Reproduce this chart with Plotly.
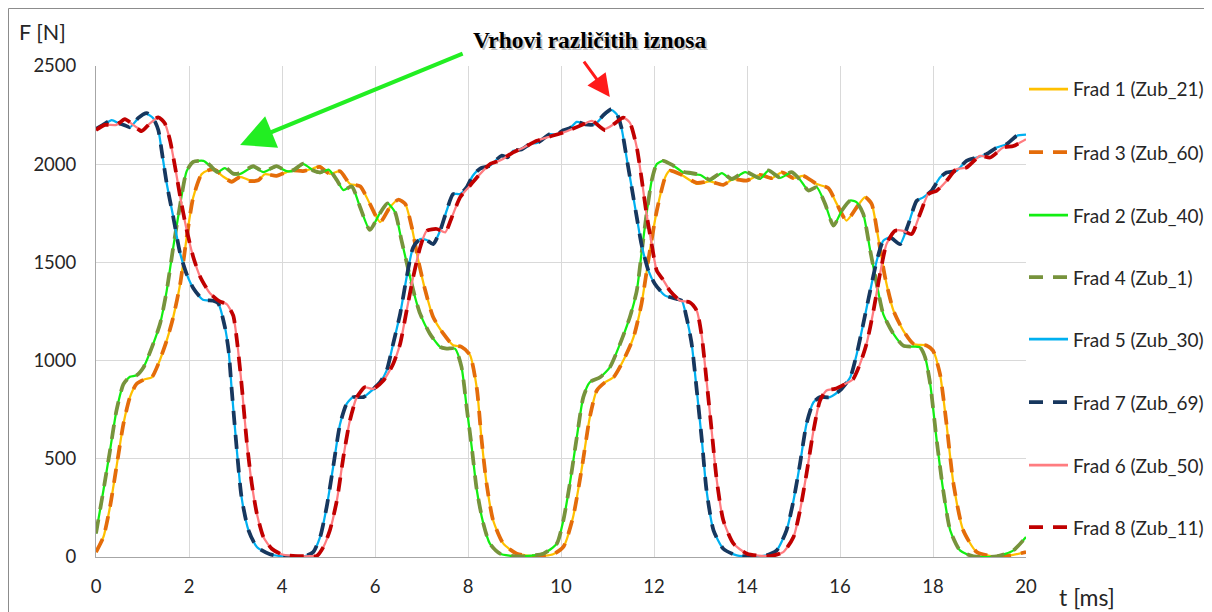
import plotly.graph_objects as go

# ---------------- data ----------------
t1 = [0, 0.16, 0.3, 0.44, 0.59, 0.73, 0.87, 1.05, 1.2, 1.34, 1.52, 1.66, 1.81, 1.95, 2.09, 2.27, 2.4, 2.56, 2.74, 2.92,
      3.1, 3.31, 3.49, 3.63, 3.88, 4.1, 4.24, 4.45, 4.67, 4.81, 5.03, 5.25, 5.46, 5.68, 5.89, 6.11, 6.32, 6.5, 6.65, 6.79,
      6.93, 7.08, 7.25, 7.47, 7.68, 7.86, 8.04, 8.19, 8.29, 8.4, 8.54, 8.76, 9.05, 9.48, 9.83, 10.05, 10.26, 10.44, 10.62, 10.77,
      10.95, 11.13, 11.34, 11.56, 11.73, 11.91, 12.06, 12.24, 12.34, 12.56, 12.92, 13.2, 13.49, 13.7, 13.99, 14.28, 14.53, 14.75, 15.0, 15.21,
      15.5, 15.75, 15.93, 16.14, 16.36, 16.54, 16.68, 16.82, 16.97, 17.15, 17.36, 17.58, 17.86, 18.0, 18.15, 18.29, 18.44, 18.65, 18.94, 19.3,
      19.66, 20.0]
frad1 = [25, 102, 254, 458, 678, 814, 881, 905, 915, 983, 1102, 1220, 1390, 1627, 1830, 1949, 1968, 1970, 1936, 1915,
         1936, 1918, 1918, 1949, 1941, 1960, 1969, 1965, 1978, 1990, 1951, 1964, 1900, 1888, 1798, 1705, 1781, 1819, 1798, 1680,
         1511, 1358, 1222, 1137, 1078, 1070, 1030, 858, 603, 373, 187, 68, 17, 3, 14, 51, 204, 441, 712, 848,
         890, 915, 1000, 1119, 1288, 1559, 1763, 1933, 1967, 1950, 1900, 1912, 1895, 1924, 1916, 1946, 1929, 1958, 1929, 1941,
         1899, 1878, 1798, 1713, 1781, 1832, 1798, 1628, 1424, 1254, 1153, 1085, 1077, 1051, 932, 678, 373, 136, 25, 3,
         8, 25]
frad3 = [25, 102, 254, 458, 678, 814, 881, 905, 915, 983, 1102, 1220, 1390, 1627, 1830, 1949, 1968, 1972, 1936, 1910,
         1936, 1914, 1918, 1949, 1941, 1960, 1969, 1965, 1978, 1986, 1951, 1964, 1900, 1888, 1798, 1705, 1781, 1819, 1798, 1680,
         1511, 1358, 1222, 1137, 1078, 1070, 1030, 858, 603, 373, 187, 68, 17, 3, 14, 51, 204, 441, 712, 848,
         890, 915, 1000, 1119, 1288, 1559, 1763, 1933, 1967, 1950, 1905, 1912, 1895, 1924, 1916, 1946, 1929, 1958, 1929, 1941,
         1899, 1878, 1798, 1713, 1781, 1832, 1798, 1628, 1424, 1254, 1153, 1085, 1077, 1051, 932, 678, 373, 136, 25, 3,
         8, 25]

t2 = [0, 0.16, 0.3, 0.44, 0.59, 0.73, 0.87, 1.02, 1.23, 1.38, 1.52, 1.66, 1.81, 1.95, 2.09, 2.31, 2.45, 2.6, 2.77, 2.95,
      3.1, 3.38, 3.6, 3.88, 4.1, 4.24, 4.46, 4.67, 4.82, 5.0, 5.18, 5.32, 5.5, 5.68, 5.89, 6.1, 6.27, 6.43, 6.57, 6.72,
      6.86, 6.97, 7.18, 7.4, 7.54, 7.72, 7.86, 7.97, 8.08, 8.19, 8.33, 8.47, 8.69, 9.1, 9.62, 9.91, 10.05, 10.19, 10.34, 10.48,
      10.62, 10.84, 11.05, 11.27, 11.48, 11.63, 11.73, 11.84, 11.95, 12.06, 12.2, 12.42, 12.63, 12.81, 13.0, 13.2, 13.46, 13.67, 13.96, 14.28,
      14.46, 14.71, 14.96, 15.14, 15.32, 15.5, 15.68, 15.86, 16.04, 16.22, 16.36, 16.5, 16.65, 16.79, 16.93, 17.15, 17.36, 17.58, 17.72, 17.83,
      17.94, 18.08, 18.22, 18.37, 18.58, 18.87, 19.37, 19.73, 20.0]
frad2 = [120, 340, 540, 745, 880, 918, 925, 965, 1085, 1190, 1355, 1575, 1795, 1965, 2012, 2017, 1992, 1958, 1980, 1950,
         1950, 1985, 1960, 1988, 1965, 1966, 2000, 1968, 1955, 1972, 1919, 1868, 1887, 1781, 1665, 1748, 1800, 1756, 1612, 1460,
         1324, 1239, 1137, 1070, 1061, 1061, 968, 764, 560, 340, 170, 68, 17, 3, 17, 68, 186, 373, 610, 814,
         890, 915, 966, 1085, 1221, 1356, 1543, 1747, 1916, 2001, 2017, 1992, 1958, 1950, 1945, 1916, 1955, 1921, 1960, 1925,
         1967, 1930, 1958, 1921, 1866, 1883, 1798, 1687, 1764, 1815, 1806, 1747, 1560, 1390, 1237, 1136, 1076, 1071, 1068, 1017,
         881, 593, 339, 136, 34, 3, 3, 34, 102]
frad4 = [120, 340, 540, 745, 880, 918, 925, 965, 1085, 1190, 1355, 1575, 1795, 1965, 2012, 2017, 1995, 1962, 1986, 1952,
         1955, 1990, 1962, 1990, 1965, 1970, 2003, 1968, 1958, 1975, 1919, 1868, 1887, 1781, 1665, 1748, 1800, 1756, 1612, 1460,
         1324, 1239, 1137, 1070, 1061, 1061, 968, 764, 560, 340, 170, 68, 17, 3, 17, 68, 186, 373, 610, 814,
         890, 915, 966, 1085, 1221, 1356, 1543, 1747, 1916, 2001, 2017, 1992, 1962, 1955, 1945, 1922, 1958, 1925, 1962, 1930,
         1968, 1932, 1960, 1921, 1866, 1883, 1798, 1687, 1764, 1815, 1806, 1747, 1560, 1390, 1237, 1136, 1076, 1071, 1068, 1017,
         881, 593, 339, 136, 34, 3, 3, 34, 102]

t5 = [0, 0.15, 0.34, 0.49, 0.6, 0.73, 0.91, 1.09, 1.23, 1.34, 1.41, 1.52, 1.66, 1.81, 1.95, 2.09, 2.3, 2.52, 2.63, 2.77,
      2.85, 2.92, 3.03, 3.13, 3.28, 3.46, 3.74, 4.0, 4.3, 4.5, 4.67, 4.82, 4.96, 5.1, 5.25, 5.39, 5.53, 5.75, 5.89, 6.11,
      6.25, 6.39, 6.54, 6.68, 6.82, 6.97, 7.11, 7.25, 7.4, 7.54, 7.68, 7.83, 7.97, 8.1, 8.26, 8.47, 8.72, 8.85, 8.97, 9.15,
      9.33, 9.5, 9.76, 9.9, 10.05, 10.2, 10.34, 10.52, 10.73, 10.91, 11.09, 11.2, 11.3, 11.41, 11.52, 11.63, 11.73, 11.88, 12.02, 12.24,
      12.49, 12.6, 12.7, 12.81, 12.92, 13.03, 13.13, 13.28, 13.49, 13.78, 14.1, 14.42, 14.64, 14.85, 15.0, 15.14, 15.28, 15.43, 15.57, 15.78,
      16.0, 16.22, 16.36, 16.5, 16.65, 16.79, 16.93, 17.08, 17.29, 17.47, 17.65, 17.79, 17.97, 18.15, 18.29, 18.5, 18.72, 18.94, 19.15, 19.37,
      19.58, 19.8, 20.0]
frad5 = [2180, 2200, 2225, 2208, 2200, 2188, 2234, 2256, 2234, 2174, 2072, 1903, 1733, 1545, 1440, 1370, 1310, 1305, 1291, 1173,
         1054, 848, 542, 305, 136, 51, 14, 4, 2, 5, 25, 102, 254, 458, 678, 780, 814, 814, 839, 890,
         949, 1085, 1237, 1424, 1576, 1619, 1614, 1593, 1661, 1763, 1848, 1848, 1882, 1940, 1978, 1992, 2043, 2035, 2068, 2075,
         2102, 2110, 2153, 2150, 2173, 2185, 2215, 2203, 2203, 2246, 2275, 2254, 2186, 2034, 1882, 1729, 1593, 1458, 1390, 1331,
         1314, 1305, 1220, 1085, 848, 593, 339, 136, 42, 8, 3, 8, 34, 136, 288, 475, 678, 788, 814, 814,
         848, 915, 1034, 1187, 1356, 1508, 1610, 1627, 1593, 1695, 1814, 1831, 1865, 1932, 1958, 1966, 2017, 2034, 2051, 2085,
         2102, 2144, 2150]
frad7 = [2180, 2200, 2225, 2208, 2200, 2188, 2236, 2260, 2234, 2174, 2072, 1903, 1733, 1545, 1440, 1370, 1310, 1305, 1291, 1173,
         1054, 848, 542, 305, 136, 51, 14, 4, 2, 5, 25, 102, 254, 458, 678, 780, 814, 814, 839, 890,
         949, 1085, 1237, 1424, 1576, 1619, 1614, 1593, 1661, 1763, 1848, 1848, 1882, 1940, 1978, 1992, 2043, 2035, 2068, 2075,
         2102, 2110, 2153, 2150, 2173, 2185, 2215, 2203, 2203, 2250, 2282, 2258, 2186, 2034, 1882, 1729, 1593, 1458, 1390, 1331,
         1314, 1305, 1220, 1085, 848, 593, 339, 136, 42, 8, 3, 8, 34, 136, 288, 475, 678, 788, 814, 814,
         848, 915, 1034, 1187, 1356, 1508, 1610, 1627, 1593, 1695, 1814, 1831, 1865, 1932, 1958, 1966, 2017, 2034, 2051, 2085,
         2102, 2144, 2150]

t6 = [0, 0.19, 0.44, 0.62, 0.8, 0.98, 1.16, 1.34, 1.48, 1.59, 1.7, 1.81, 1.95, 2.09, 2.24, 2.45, 2.67, 2.81, 2.95, 3.03,
      3.13, 3.24, 3.35, 3.46, 3.6, 3.78, 3.99, 4.3, 4.6, 4.75, 4.89, 5.03, 5.18, 5.32, 5.46, 5.61, 5.78, 5.96, 6.18, 6.39,
      6.54, 6.68, 6.82, 6.97, 7.11, 7.33, 7.51, 7.65, 7.83, 8.01, 8.19, 8.47, 8.7, 8.97, 9.2, 9.48, 9.75, 10.05, 10.25, 10.48,
      10.66, 10.95, 11.13, 11.34, 11.48, 11.63, 11.73, 11.84, 11.95, 12.06, 12.2, 12.34, 12.56, 12.77, 12.92, 13.03, 13.13, 13.24, 13.35, 13.49,
      13.71, 14.0, 14.5, 14.78, 15.0, 15.14, 15.28, 15.43, 15.57, 15.71, 15.89, 16.11, 16.28, 16.43, 16.57, 16.72, 16.86, 17.0, 17.18, 17.36,
      17.54, 17.72, 17.9, 18.08, 18.29, 18.5, 18.72, 19.01, 19.23, 19.51, 19.73, 20.0]
frad6 = [2174, 2200, 2200, 2229, 2200, 2175, 2208, 2239, 2208, 2123, 1987, 1835, 1665, 1529, 1427, 1343, 1300, 1288, 1230, 1105,
         881, 593, 373, 220, 102, 42, 14, 5, 4, 6, 51, 136, 288, 509, 695, 814, 864, 856, 898, 983,
         1085, 1254, 1424, 1576, 1661, 1670, 1653, 1729, 1831, 1882, 1932, 2000, 2020, 2060, 2085, 2119, 2140, 2161, 2180, 2203,
         2220, 2180, 2203, 2237, 2212, 2085, 1932, 1746, 1593, 1458, 1410, 1356, 1305, 1297, 1254, 1119, 898, 644, 390, 187,
         68, 17, 5, 25, 102, 237, 424, 644, 797, 848, 856, 881, 905, 983, 1085, 1254, 1441, 1593, 1661, 1661,
         1644, 1746, 1848, 1865, 1915, 1975, 1983, 2042, 2034, 2085, 2093, 2127]
frad8 = [2174, 2200, 2200, 2229, 2200, 2168, 2208, 2239, 2208, 2123, 1987, 1835, 1665, 1529, 1427, 1343, 1300, 1288, 1230, 1105,
         881, 593, 373, 220, 102, 42, 14, 5, 4, 6, 51, 136, 288, 509, 695, 814, 864, 856, 898, 983,
         1085, 1254, 1424, 1576, 1661, 1670, 1653, 1729, 1831, 1882, 1932, 2000, 2020, 2060, 2085, 2119, 2140, 2161, 2180, 2203,
         2222, 2172, 2203, 2237, 2212, 2085, 1932, 1746, 1593, 1458, 1410, 1356, 1305, 1297, 1254, 1119, 898, 644, 390, 187,
         68, 17, 5, 25, 102, 237, 424, 644, 797, 848, 856, 881, 905, 983, 1085, 1254, 1441, 1593, 1661, 1661,
         1644, 1746, 1848, 1865, 1915, 1975, 1983, 2042, 2034, 2085, 2093, 2127]

x_ticks = [0, 2, 4, 6, 8, 10, 12, 14, 16, 18, 20]
y_ticks = [0, 500, 1000, 1500, 2000, 2500]

# ---------------- styling ----------------
FONT = "Lato"
TXT = "#262626"
DASH = "14px,10px"

series = [
    ("Frad 1 (Zub_21)", t1, frad1, "#FFC000", 2.25, "solid"),
    ("Frad 3 (Zub_60)", t1, frad3, "#E46C0A", 3.75, DASH),
    ("Frad 2 (Zub_40)", t2, frad2, "#12EE12", 2.25, "solid"),
    ("Frad 4 (Zub_1)", t2, frad4, "#77933C", 3.75, DASH),
    ("Frad 5 (Zub_30)", t5, frad5, "#00B0F0", 2.25, "solid"),
    ("Frad 7 (Zub_69)", t5, frad7, "#17375E", 3.75, DASH),
    ("Frad 6 (Zub_50)", t6, frad6, "#FF7C80", 2.25, "solid"),
    ("Frad 8 (Zub_11)", t6, frad8, "#C00000", 3.75, DASH),
]

# plot-area geometry in page pixels (page body has an 8px margin)
PX0, PX1, PY0, PY1 = 96, 1026, 66, 557
def px_x(p):  # page x -> paper x
    return (p - PX0) / (PX1 - PX0)
def px_y(p):  # page y -> paper y
    return (PY1 - p) / (PY1 - PY0)

fig = go.Figure()
for i, (name, tx, fy, col, w, dash) in enumerate(series):
    fig.add_trace(go.Scatter(
        x=tx, y=fy, mode="lines", name=name, showlegend=False,
        line=dict(color=col, width=w, dash=dash, shape="spline", smoothing=0.6),
    ))

axis_common = dict(
    showgrid=True, gridcolor="#D9D9D9", gridwidth=1,
    showline=True, linecolor="#A6A6A6", linewidth=1,
    zeroline=False, ticks="",
    tickfont=dict(family=FONT, size=18.5, color=TXT),
)

fig.update_layout(
    width=1204, height=604,
    margin=dict(l=88, r=186, t=58, b=55, autoexpand=False),
    paper_bgcolor="white", plot_bgcolor="white",
    xaxis=dict(range=[0, 20], tickvals=x_ticks, ticklabelstandoff=13, **axis_common),
    yaxis=dict(range=[0, 2500], tickvals=y_ticks, ticklabelstandoff=15, **axis_common),
    showlegend=False,
)

# legend drawn beside the plot: line sample + label for each series
legend_rows = [89, 152, 215, 277, 339, 402, 465, 527]
for (name, tx, fy, col, w, dash), ry in zip(series, legend_rows):
    fig.add_shape(type="line", xref="paper", yref="paper",
                  x0=px_x(1029), x1=px_x(1068), y0=px_y(ry), y1=px_y(ry),
                  line=dict(color=col, width=w + 0.5 if dash == "solid" else w, dash=dash))
    fig.add_annotation(text=name, xref="paper", yref="paper", x=px_x(1071), y=px_y(ry),
                       xanchor="left", yanchor="middle", showarrow=False,
                       font=dict(family=FONT, size=19, color=TXT))

# axis titles
fig.add_annotation(text="F [N]", xref="paper", yref="paper", x=px_x(17), y=px_y(32),
                   xanchor="left", yanchor="middle", showarrow=False,
                   font=dict(family=FONT, size=21.5, color=TXT))
fig.add_annotation(text="t [ms]", xref="paper", yref="paper", x=px_x(1057), y=px_y(597),
                   xanchor="left", yanchor="middle", showarrow=False,
                   font=dict(family=FONT, size=23, color=TXT))

# title-like callout with shadow
for dx, dy, col in [(2, -2, "rgba(120,120,120,0.45)"), (0, 0, "#000000")]:
    fig.add_annotation(text="<b>Vrhovi različitih iznosa</b>", xref="paper", yref="paper",
                       x=px_x(589), y=px_y(40), xanchor="center", yanchor="middle", showarrow=False,
                       xshift=dx, yshift=dy,
                       font=dict(family="Liberation Serif", size=23.5, color=col))

# green arrow
fig.add_annotation(x=3.1, y=2098, xref="x", yref="y", ax=224, ay=-92, axref="pixel", ayref="pixel",
                   text="", showarrow=True, arrowhead=2, arrowsize=1.7, arrowwidth=4,
                   arrowcolor="#22EE22", standoff=0, startstandoff=0)
# red arrow
fig.add_annotation(x=11.05, y=2342, xref="x", yref="y", ax=-27, ay=-37, axref="pixel", ayref="pixel",
                   text="", showarrow=True, arrowhead=2, arrowsize=1.5, arrowwidth=3,
                   arrowcolor="#FF1A1A", standoff=0, startstandoff=0)

# outer chart-area border (top and left edges)
fig.add_shape(type="line", xref="paper", yref="paper", x0=px_x(8.5), x1=px_x(1212),
              y0=px_y(8.5), y1=px_y(8.5), line=dict(color="#8C8C8C", width=1))
fig.add_shape(type="line", xref="paper", yref="paper", x0=px_x(8.5), x1=px_x(8.5),
              y0=px_y(8.5), y1=px_y(612), line=dict(color="#8C8C8C", width=1))

fig.write_html("out.html")
